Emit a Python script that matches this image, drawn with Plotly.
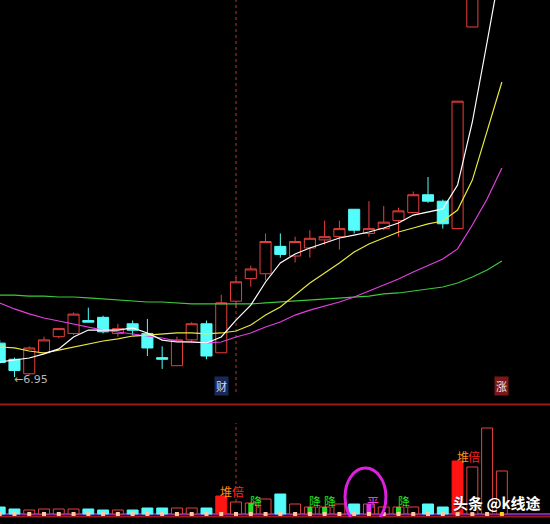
import plotly.graph_objects as go

# ---------------- data ----------------
days = list(range(35))
open_p = [7.16, 7.06, 6.97, 7.10, 7.20, 7.22, 7.30, 7.32, 7.22, 7.28,
          7.22, 7.07, 7.02, 7.18, 7.28, 7.10, 7.42, 7.56, 7.59, 7.76,
          7.70, 7.75, 7.80, 7.82, 7.99, 7.84, 7.87, 7.92, 7.97, 8.08,
          8.04, 7.87, 9.12, 9.95, 10.90]
high_p = [7.18, 7.07, 7.14, 7.20, 7.25, 7.35, 7.38, 7.33, 7.28, 7.30,
          7.31, 7.14, 7.20, 7.29, 7.30, 7.46, 7.57, 7.64, 7.84, 7.84,
          7.82, 7.86, 7.92, 7.92, 7.99, 8.04, 8.01, 8.00, 8.10, 8.19,
          8.05, 8.66, 9.53, 10.48, 11.53]
low_p = [7.03, 6.95, 6.96, 7.09, 7.19, 7.21, 7.29, 7.22, 7.20, 7.21,
         7.08, 7.00, 7.02, 7.16, 7.06, 7.10, 7.38, 7.51, 7.55, 7.69,
         7.66, 7.69, 7.77, 7.74, 7.84, 7.82, 7.86, 7.82, 7.97, 8.03,
         7.87, 7.87, 9.12, 9.90, 10.70]
close_p = [7.04, 6.99, 7.13, 7.18, 7.25, 7.34, 7.29, 7.23, 7.25, 7.24,
           7.13, 7.06, 7.18, 7.28, 7.08, 7.41, 7.54, 7.62, 7.79, 7.71,
           7.79, 7.81, 7.82, 7.87, 7.86, 7.87, 7.91, 7.98, 8.08, 8.04,
           7.90, 8.66, 9.53, 10.48, 11.53]

ma5 = [7.043, 7.055, 7.068, 7.093, 7.124, 7.198, 7.241, 7.241, 7.241, 7.254,
       7.223, 7.179, 7.167, 7.167, 7.161, 7.198, 7.303, 7.396, 7.539, 7.657,
       7.713, 7.750, 7.781, 7.812, 7.830, 7.849, 7.874, 7.905, 7.954, 7.973,
       7.992, 8.140, 8.531, 9.027, 9.535]
ma10 = [7.136, 7.130, 7.111, 7.099, 7.117, 7.136, 7.155, 7.173, 7.186, 7.204,
        7.210, 7.217, 7.223, 7.223, 7.217, 7.223, 7.235, 7.272, 7.334, 7.384,
        7.458, 7.533, 7.595, 7.657, 7.725, 7.775, 7.812, 7.849, 7.874, 7.899,
        7.917, 7.985, 8.171, 8.481, 8.779]
ma20 = [7.409, 7.372, 7.341, 7.316, 7.297, 7.279, 7.260, 7.241, 7.229, 7.217,
        7.204, 7.192, 7.173, 7.167, 7.161, 7.167, 7.198, 7.223, 7.260, 7.291,
        7.334, 7.365, 7.390, 7.415, 7.446, 7.483, 7.520, 7.558, 7.601, 7.644,
        7.682, 7.744, 7.892, 8.054, 8.246]
ma60 = [7.458, 7.458, 7.452, 7.452, 7.446, 7.446, 7.440, 7.434, 7.427, 7.421,
        7.415, 7.415, 7.409, 7.403, 7.403, 7.403, 7.403, 7.403, 7.409, 7.415,
        7.421, 7.427, 7.434, 7.440, 7.446, 7.452, 7.465, 7.471, 7.483, 7.496,
        7.508, 7.533, 7.570, 7.613, 7.669]

volume = [7000, 5000, 4000, 5000, 5000, 5000, 5000, 4000, 4000, 4000,
          6000, 6000, 6000, 6000, 6000, 18000, 12000, 11000, 15000, 20000,
          10000, 7000, 7000, 10000, 10000, 10000, 7000, 7000, 7000, 10000,
          7000, 53000, 47000, 86000, 43000]

double_vol_days = [15, 31]        # 堆倍
drop_days = [17, 21, 22, 27]      # 降
flat_days = [25]                  # 平
low_mark_day = 1
low_mark_value = 6.95
tag_cai_day = 15
tag_zhang_day = 34
event_day = 16

# ---------------- styles ----------------
RED = '#e8403c'
CYAN = '#54fcfc'
BRIGHT_RED = '#ff1414'
CJK = 'Noto Sans CJK SC'

fig = go.Figure()

fig.add_trace(go.Candlestick(
    x=days, open=open_p, high=high_p, low=low_p, close=close_p,
    increasing=dict(line=dict(color=RED, width=1), fillcolor='#000000'),
    decreasing=dict(line=dict(color=CYAN, width=1), fillcolor=CYAN),
    whiskerwidth=0, hoverinfo='skip', xaxis='x', yaxis='y'))

for ma, col in [(ma60, '#3cc83c'), (ma20, '#e040e0'), (ma10, '#e8e840'), (ma5, '#ffffff')]:
    fig.add_trace(go.Scatter(x=days, y=ma, mode='lines',
                             line=dict(color=col, width=1.2),
                             hoverinfo='skip', xaxis='x', yaxis='y'))

# volume bars
fills, edges = [], []
for i in days:
    if i in double_vol_days:
        fills.append(BRIGHT_RED); edges.append(BRIGHT_RED)
    elif close_p[i] >= open_p[i]:
        fills.append('#000000'); edges.append(RED)
    else:
        fills.append(CYAN); edges.append(CYAN)
fig.add_trace(go.Bar(x=days, y=volume, width=0.74,
                     marker=dict(color=fills, line=dict(color=edges, width=1)),
                     hoverinfo='skip', xaxis='x', yaxis='y2'))
fig.add_trace(go.Bar(x=drop_days, y=[volume[i] for i in drop_days], width=0.34,
                     marker=dict(color='#22dd22', line=dict(width=0)),
                     hoverinfo='skip', xaxis='x', yaxis='y2'))
fig.add_trace(go.Bar(x=flat_days, y=[volume[i] for i in flat_days], width=0.34,
                     marker=dict(color='#e030e0', line=dict(width=0)),
                     hoverinfo='skip', xaxis='x', yaxis='y2'))

dot_colors = ['#ffc8a0'] * (len(days) - 1) + ['#ffd020']
fig.add_trace(go.Scatter(x=days, y=[0] * len(days), mode='markers',
                         marker=dict(symbol='square', size=4, color=dot_colors),
                         hoverinfo='skip', xaxis='x', yaxis='y2'))

H = 524.0
def py(px):
    return 1 - px / H

shapes = [
    dict(type='line', xref='paper', yref='paper', x0=0, x1=1, y0=py(404.5), y1=py(404.5),
         line=dict(color='#9c1c1c', width=2), layer='below'),
    dict(type='line', xref='paper', yref='paper', x0=0, x1=1, y0=py(516.5), y1=py(516.5),
         line=dict(color='#9c1c1c', width=2), layer='below'),
    dict(type='line', xref='paper', yref='y2', x0=0, x1=1, y0=0, y1=0,
         line=dict(color='#9a3ae0', width=1.5), layer='below'),
    dict(type='line', xref='x', yref='paper', x0=event_day, x1=event_day, y0=py(392), y1=1,
         line=dict(color='#c03030', width=1, dash='dot'), layer='below'),
    dict(type='line', xref='x', yref='paper', x0=event_day, x1=event_day, y0=py(502), y1=py(423),
         line=dict(color='#c03030', width=1, dash='dot'), layer='below'),
    dict(type='circle', xref='x', yref='y2', x0=23.38, x1=26.15, y0=-12000, y1=46000,
         line=dict(color='#e020e0', width=3)),
]

annotations = [
    dict(x=low_mark_day - 0.15, y=low_mark_value, xref='x', yref='y', text='←' + f'{low_mark_value:.2f}',
         showarrow=False, xanchor='left', yanchor='middle', yshift=-2,
         font=dict(family='DejaVu Sans', size=11, color='#b8b8b8')),
    dict(x=tag_cai_day, y=py(396), xref='x', yref='paper', text='财', showarrow=False,
         bgcolor='#1a2858', borderpad=1, font=dict(family=CJK, size=11, color='#d0dcff')),
    dict(x=tag_zhang_day, y=py(396), xref='x', yref='paper', text='涨', showarrow=False,
         bgcolor='#7a1818', borderpad=1, font=dict(family=CJK, size=11, color='#ffe0e0')),
]
for d in double_vol_days:
    annotations.append(dict(x=d + 0.35, y=volume[d] + 5000, xref='x', yref='y2', text='堆',
                            showarrow=False, font=dict(family=CJK, size=12, color='#ff8c1a')))
    annotations.append(dict(x=d + 1.12, y=volume[d] + 5000, xref='x', yref='y2', text='倍',
                            showarrow=False, font=dict(family=CJK, size=12, color='#ff2020')))
for d in drop_days:
    annotations.append(dict(x=d + 0.38, y=12500, xref='x', yref='y2', text='降',
                            showarrow=False, font=dict(family=CJK, size=12, color='#22e022')))
for d in flat_days:
    annotations.append(dict(x=d + 0.3, y=12500, xref='x', yref='y2', text='平',
                            showarrow=False, font=dict(family=CJK, size=12, color='#e040e0')))
annotations.append(dict(x=497 / 550, y=py(502), xref='paper', yref='paper', text='<b>头条 @k线途</b>',
                        showarrow=False, xanchor='center', yanchor='middle',
                        font=dict(family=CJK, size=15, color='#ffffff', shadow='1px 1px 2px #000000')))

fig.update_layout(
    width=550, height=524, margin=dict(l=0, r=0, t=0, b=0),
    paper_bgcolor='#000000', plot_bgcolor='#000000',
    showlegend=False, barmode='overlay', boxgap=0.25, boxgroupgap=0,
    xaxis=dict(range=[0.0203, 37.258], visible=False, rangeslider=dict(visible=False),
               showgrid=False, zeroline=False),
    yaxis=dict(range=[6.7826, 9.2874], domain=[py(404), 1], visible=False,
               showgrid=False, zeroline=False),
    yaxis2=dict(range=[-3000, 109000], domain=[py(517), py(405)], visible=False,
                showgrid=False, zeroline=False),
    shapes=shapes, annotations=annotations,
)

fig.write_html('out.html', config={'displayModeBar': False},
               post_script="document.body.style.margin='0';document.body.style.background='#000';")
